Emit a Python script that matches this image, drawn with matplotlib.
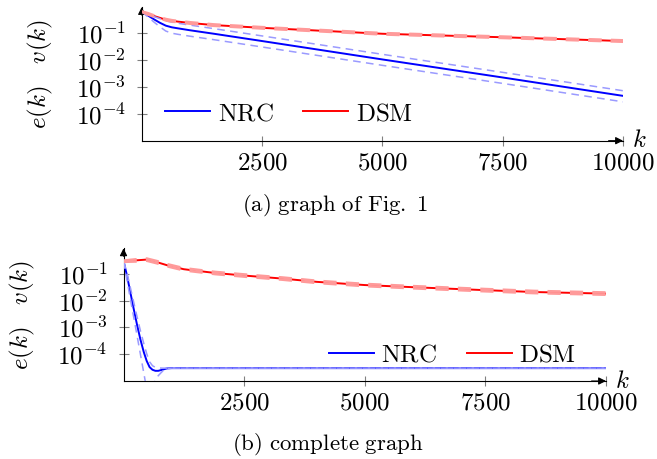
import matplotlib
matplotlib.use("Agg")
import matplotlib.pyplot as plt
from matplotlib.ticker import FixedLocator, FixedFormatter, NullLocator

plt.rcParams['mathtext.fontset'] = 'cm'
plt.rcParams['font.family'] = ['DejaVu Serif']
plt.rcParams['axes.unicode_minus'] = False

# ---------------- data: (a) graph of Fig. 1 ----------------
k_a = [0, 125, 250, 375, 500, 625, 750, 1000, 1500, 2500, 5000, 7500, 10000]
nrc_a = [0.603, 0.437, 0.316, 0.234, 0.182, 0.158, 0.145, 0.123, 0.0912, 0.049, 0.0102, 0.00219, 0.000457]
nrc_a_up = [0.603, 0.490, 0.398, 0.331, 0.275, 0.245, 0.224, 0.191, 0.141, 0.0759, 0.0158, 0.00339, 0.000708]
nrc_a_lo = [0.603, 0.389, 0.251, 0.166, 0.115, 0.0955, 0.0871, 0.0741, 0.0550, 0.0295, 0.00617, 0.00132, 0.000275]
dsm_a = [0.603, 0.501, 0.417, 0.355, 0.302, 0.275, 0.257, 0.229, 0.191, 0.151, 0.0912, 0.0676, 0.0490]
dsm_a_up = [0.603, 0.53, 0.44, 0.375, 0.32, 0.29, 0.272, 0.243, 0.202, 0.160, 0.0966, 0.0716, 0.0519]
dsm_a_lo = [0.603, 0.473, 0.394, 0.335, 0.285, 0.26, 0.243, 0.216, 0.180, 0.143, 0.0861, 0.0638, 0.0463]

# ---------------- data: (b) complete graph ----------------
k_b_nrc = [0, 70, 140, 210, 280, 350, 420, 480, 540, 600, 660, 720, 800, 900, 1000, 10000]
nrc_b = [0.295, 0.0891, 0.0209, 0.00501, 0.00126, 3.55e-4, 1.20e-4, 5.62e-5, 3.31e-5, 2.63e-5,
         2.40e-5, 2.40e-5, 2.63e-5, 2.95e-5, 3.02e-5, 3.02e-5]
nrc_b_up = [0.295, 0.112, 0.0316, 0.00891, 0.00251, 7.59e-4, 2.51e-4, 1.05e-4, 5.25e-5, 3.72e-5,
            3.24e-5, 3.09e-5, 3.02e-5, 3.02e-5, 3.02e-5, 3.02e-5]
nrc_b_lo = [0.295, 0.0603, 0.0120, 0.00245, 5.01e-4, 1.0e-4, 2.0e-5, 5.0e-6, 3.2e-6, 5.0e-6,
            1.12e-5, 1.58e-5, 2.24e-5, 2.95e-5, 3.02e-5, 3.02e-5]
k_b_dsm = [0, 250, 480, 700, 900, 1250, 1900, 2600, 3300, 4000, 5000, 6000, 7500, 8500, 10000]
dsm_b = [0.295, 0.316, 0.339, 0.269, 0.209, 0.148, 0.107, 0.0832, 0.0661, 0.0501, 0.0380, 0.0316, 0.0245, 0.0209, 0.0182]
dsm_b_up = [0.31, 0.345, 0.37, 0.295, 0.229, 0.162, 0.117, 0.0912, 0.0724, 0.0549, 0.0417, 0.0346, 0.0269, 0.0229, 0.0200]
dsm_b_lo = [0.28, 0.288, 0.309, 0.245, 0.191, 0.135, 0.0976, 0.0759, 0.0603, 0.0457, 0.0347, 0.0288, 0.0223, 0.0191, 0.0166]

xticks = [2500, 5000, 7500, 10000]
xticklabels = ['2500', '5000', '7500', '10000']
yticks = [1e-4, 1e-3, 1e-2, 1e-1]
yticklabels = [r'$10^{-4}$', r'$10^{-3}$', r'$10^{-2}$', r'$10^{-1}$']

BLUE = '#0000ff'
LBLUE = '#9a9aff'
RED = '#ff0000'
LRED = '#ff9a9a'
DASH = (5, 3.5)

fig = plt.figure(figsize=(6.57, 4.59), dpi=100)
ax_a = fig.add_axes([0.2157, 0.6935, 0.7326, 0.2912])
ax_b = fig.add_axes([0.188, 0.1699, 0.7344, 0.2891])


def style(ax):
    ax.set_yscale('log')
    ax.set_xlim(0, 10000)
    ax.set_ylim(1e-5, 10 ** -0.05)
    for s in ['top', 'right']:
        ax.spines[s].set_visible(False)
    for s in ['left', 'bottom']:
        ax.spines[s].set_linewidth(0.8)
    ax.xaxis.set_major_locator(FixedLocator(xticks))
    ax.xaxis.set_major_formatter(FixedFormatter([r'$%s$' % t for t in xticklabels]))
    ax.yaxis.set_major_locator(FixedLocator(yticks))
    ax.yaxis.set_major_formatter(FixedFormatter(yticklabels))
    ax.yaxis.set_minor_locator(NullLocator())
    ax.xaxis.set_minor_locator(NullLocator())
    ax.tick_params(axis='both', direction='inout', length=7, width=0.8,
                   color='#808080', labelsize=18)
    ax.tick_params(axis='x', pad=4)
    ax.tick_params(axis='y', pad=8)
    ax.annotate('', xy=(1.0, 0), xytext=(0.97, 0), xycoords='axes fraction',
                arrowprops=dict(arrowstyle='-|>', color='k', lw=0.8,
                                mutation_scale=11, shrinkA=0, shrinkB=0))
    ax.annotate('', xy=(0, 1.0), xytext=(0, 0.94), xycoords='axes fraction',
                arrowprops=dict(arrowstyle='-|>', color='k', lw=0.8,
                                mutation_scale=11, shrinkA=0, shrinkB=0))


style(ax_a)
style(ax_b)

# (a)
ax_a.plot(k_a, nrc_a, color=BLUE, lw=1.4, label=r'$\mathrm{NRC}$', zorder=3)
ax_a.plot(k_a, dsm_a, color=RED, lw=1.4, label=r'$\mathrm{DSM}$', zorder=3)
for ys in (nrc_a_up, nrc_a_lo):
    ax_a.plot(k_a, ys, color=LBLUE, lw=1.1, dashes=DASH, zorder=4)
for ys in (dsm_a_up, dsm_a_lo):
    ax_a.plot(k_a, ys, color=LRED, lw=1.9, dashes=DASH, zorder=4)

# (b)
ax_b.plot(k_b_nrc, nrc_b, color=BLUE, lw=1.4, label=r'$\mathrm{NRC}$', zorder=3)
ax_b.plot(k_b_dsm, dsm_b, color=RED, lw=1.4, label=r'$\mathrm{DSM}$', zorder=3)
for ys in (nrc_b_up, nrc_b_lo):
    ax_b.plot(k_b_nrc, ys, color=LBLUE, lw=1.1, dashes=DASH, zorder=4)
for ys in (dsm_b_up, dsm_b_lo):
    ax_b.plot(k_b_dsm, ys, color=LRED, lw=1.9, dashes=DASH, zorder=4)

leg_kw = dict(ncol=2, frameon=False, fontsize=18, handlelength=1.8,
              handletextpad=0.3, columnspacing=1.2, loc='center',
              borderpad=0, borderaxespad=0)
ax_a.legend(bbox_to_anchor=(0.306, 0.202), **leg_kw)
ax_b.legend(bbox_to_anchor=(0.682, 0.196), **leg_kw)

# axis labels
fig.text(40.7 / 657, 1 - 74 / 459, r'$e(k)\quad v(k)$', rotation=90,
         ha='center', va='center', fontsize=18)
fig.text(22 / 657, 1 - 315 / 459, r'$e(k)\quad v(k)$', rotation=90,
         ha='center', va='center', fontsize=18)
fig.text(639.5 / 657, 1 - 140.7 / 459, r'$k$', ha='center', va='center', fontsize=18)
fig.text(622.5 / 657, 1 - 381 / 459, r'$k$', ha='center', va='center', fontsize=18)

# captions
fig.text(335.5 / 657, 1 - 205.7 / 459, r'$\mathrm{(a)\ graph\ of\ Fig.\ 1}$',
         ha='center', va='center', fontsize=16.5)
fig.text(328 / 657, 1 - 445 / 459, r'$\mathrm{(b)\ complete\ graph}$',
         ha='center', va='center', fontsize=16.5)

fig.savefig('out.png', dpi=100)
